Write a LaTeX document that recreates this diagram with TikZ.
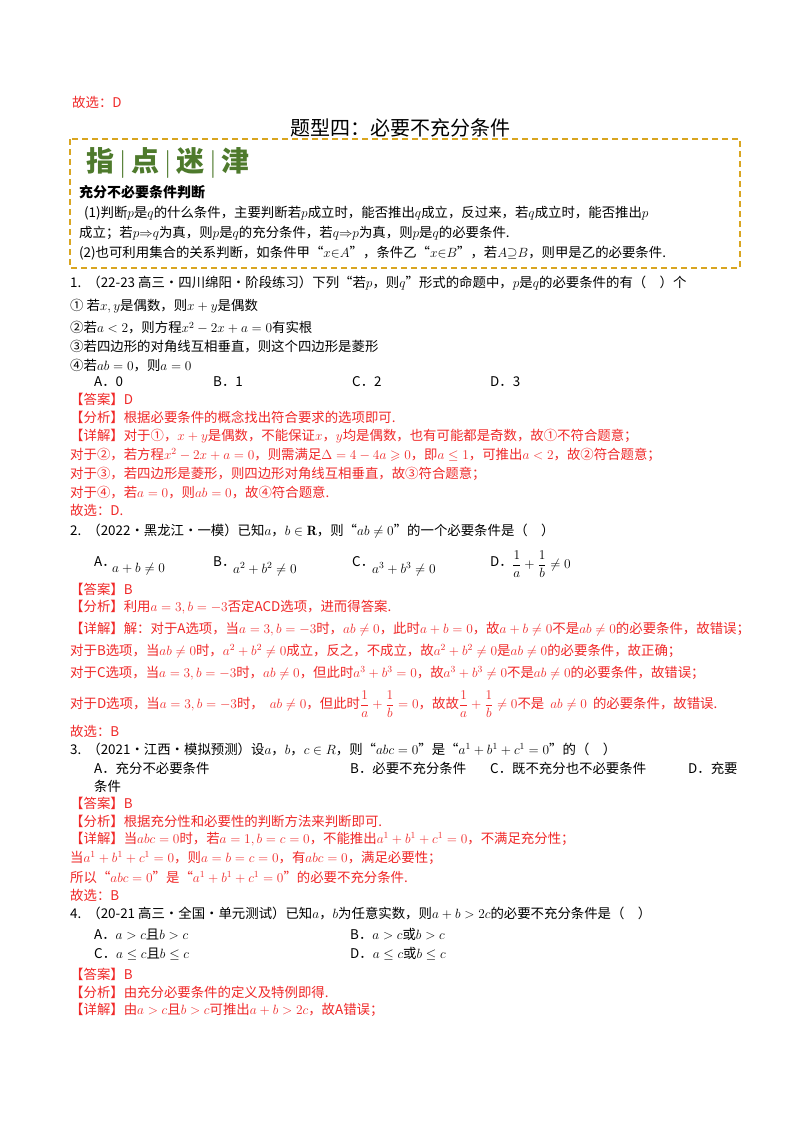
\RequirePackage{fix-cm}
\documentclass[tikz,border=0pt]{standalone}
\usepackage{amsmath,amssymb}
\usepackage{fontspec}
\newfontfamily\cjk{Noto Sans CJK SC}
\definecolor{ansred}{HTML}{F02828}
\definecolor{boxorange}{HTML}{D9A520}
\definecolor{zgreen}{HTML}{4E7A2C}
\tikzset{
 txt/.style={anchor=west, inner sep=0pt, font=\cjk\fontsize{13.4}{16}\selectfont},
 rtxt/.style={txt, text=ansred},
}
\begin{document}
\begin{tikzpicture}[x=1pt,y=-1pt]
\useasboundingbox[fill=white] (0,0) rectangle (800,1132);
\node[rtxt] (g0) at (72,102) {故选：D};
\node[anchor=center,inner sep=0pt,font=\cjk\fontsize{20}{24}\selectfont] (title) at (400,128) {题型四：必要不充分条件};
\draw[boxorange, line width=1.6pt, dash pattern=on 6pt off 4pt] (70,139) rectangle (740,268);
\node[txt,font=\cjk\bfseries\fontsize{28}{32}\selectfont,text=zgreen] (zd) at (86,163) {指\,{\normalfont|}\,点\,{\normalfont|}\,迷\,{\normalfont|}\,津};
\node[txt,font=\cjk\bfseries\fontsize{14}{16}\selectfont] (h) at (79,192) {充分不必要条件判断};
\node[txt] (l1) at (84,213) {(1)判断$p$是$q$的什么条件，主要判断若$p$成立时，能否推出$q$成立，反过来，若$q$成立时，能否推出$p$};
\node[txt] (l2) at (79,233) {成立；若$p{\Rightarrow}q$为真，则$p$是$q$的充分条件，若$q{\Rightarrow}p$为真，则$p$是$q$的必要条件.};
\node[txt] (l3) at (79,253) {(2)也可利用集合的关系判断，如条件甲“$x{\in}A$”，条件乙“$x{\in}B$”，若$A{\supseteq}B$，则甲是乙的必要条件.};

\node[txt] (q1) at (70,283) {1.\ \ （22-23 高三·四川绵阳·阶段练习）下列“若$p$，则$q$”形式的命题中，$p$是$q$的必要条件的有（\quad）个};
\node[txt] (q1a) at (70,306) {① 若$x,y$是偶数，则$x+y$是偶数};
\node[txt] (q1b) at (70,328) {②若$a<2$，则方程$x^2-2x+a=0$有实根};
\node[txt] (q1c) at (70,347) {③若四边形的对角线互相垂直，则这个四边形是菱形};
\node[txt] (q1d) at (70,366) {④若$ab=0$，则$a=0$};
\node[txt] (o1a) at (94,382) {A．0};
\node[txt] (o1b) at (213,382) {B．1};
\node[txt] (o1c) at (352,382) {C．2};
\node[txt] (o1d) at (490,382) {D．3};
\node[rtxt] (a1) at (70,399) {【答案】D};
\node[rtxt] (f1) at (70,417) {【分析】根据必要条件的概念找出符合要求的选项即可.};
\node[rtxt] (d1) at (70,436) {【详解】对于①，$x+y$是偶数，不能保证$x$，$y$均是偶数，也有可能都是奇数，故①不符合题意；};
\node[rtxt] (d1b) at (70,455) {对于②，若方程$x^2-2x+a=0$，则需满足$\Delta=4-4a\geqslant0$，即$a\le1$，可推出$a<2$，故②符合题意；};
\node[rtxt] (d1c) at (70,474) {对于③，若四边形是菱形，则四边形对角线互相垂直，故③符合题意；};
\node[rtxt] (d1d) at (70,493) {对于④，若$a=0$，则$ab=0$，故④符合题意.};
\node[rtxt] (g1) at (70,510) {故选：D.};

\node[txt] (q2) at (70,531) {2.\ \ （2022·黑龙江·一模）已知$a$，$b\in\mathbf{R}$，则“$ab\neq0$”的一个必要条件是（\quad）};
\node[txt] (o2a) at (94,562) {A．};
\node[txt] (o2am) at (112,569) {$a+b\neq0$};
\node[txt] (o2b) at (213,562) {B．};
\node[txt] (o2bm) at (233,569) {$a^2+b^2\neq0$};
\node[txt] (o2c) at (352,562) {C．};
\node[txt] (o2cm) at (372,569) {$a^3+b^3\neq0$};
\node[txt] (o2d) at (490,562) {D．};
\node[txt] (o2dm) at (512,564) {$\dfrac1a+\dfrac1b\neq0$};
\begin{scope}[every node/.append style={font=\cjk\fontsize{11.8}{14}\selectfont}]
\node[rtxt] (a2) at (70,589) {【答案】B};
\node[rtxt] (f2) at (70,607) {【分析】利用$a=3,b=-3$否定ACD选项，进而得答案.};
\node[rtxt] (d2) at (70,629) {【详解】解：对于A选项，当$a=3,b=-3$时，$ab\neq0$，此时$a+b=0$，故$a+b\neq0$不是$ab\neq0$的必要条件，故错误；};
\node[rtxt] (d2b) at (70,651) {对于B选项，当$ab\neq0$时，$a^2+b^2\neq0$成立，反之，不成立，故$a^2+b^2\neq0$是$ab\neq0$的必要条件，故正确；};
\node[rtxt] (d2c) at (70,673) {对于C选项，当$a=3,b=-3$时，$ab\neq0$，但此时$a^3+b^3=0$，故$a^3+b^3\neq0$不是$ab\neq0$的必要条件，故错误；};
\node[rtxt] (d2d) at (70,704) {对于D选项，当$a=3,b=-3$时，\ \ $ab\neq0$，但此时$\dfrac1a+\dfrac1b=0$，故故$\dfrac1a+\dfrac1b\neq0$不是\ \ $ab\neq0$\ \ 的必要条件，故错误.};
\node[rtxt] (g2) at (70,731) {故选：B};
\end{scope}

\node[txt] (q3) at (70,749) {3.\ \ （2021·江西·模拟预测）设$a$，$b$，$c\in R$，则“$abc=0$”是“$a^1+b^1+c^1=0$”的（\quad）};
\node[txt] (o3a) at (94,768) {A．充分不必要条件};
\node[txt] (o3b) at (350,768) {B．必要不充分条件};
\node[txt] (o3c) at (490,768) {C．既不充分也不必要条件};
\node[txt] (o3d) at (688,768) {D．充要};
\node[txt] (o3e) at (94,786) {条件};
\node[rtxt] (a3) at (70,803) {【答案】B};
\node[rtxt] (f3) at (70,821) {【分析】根据充分性和必要性的判断方法来判断即可.};
\node[rtxt] (d3) at (70,839) {【详解】当$abc=0$时，若$a=1,b=c=0$，不能推出$a^1+b^1+c^1=0$，不满足充分性；};
\node[rtxt] (d3b) at (70,858) {当$a^1+b^1+c^1=0$，则$a=b=c=0$，有$abc=0$，满足必要性；};
\node[rtxt] (d3c) at (70,877) {所以“$abc=0$”是“$a^1+b^1+c^1=0$”的必要不充分条件.};
\node[rtxt] (g3) at (70,895) {故选：B};
\node[txt] (q4) at (70,913) {4.\ \ （20-21 高三·全国·单元测试）已知$a$，$b$为任意实数，则$a+b>2c$的必要不充分条件是（\quad）};
\node[txt] (o4a) at (94,934) {A．$a>c$且$b>c$};
\node[txt] (o4b) at (350,934) {B．$a>c$或$b>c$};
\node[txt] (o4c) at (94,954) {C．$a\le c$且$b\le c$};
\node[txt] (o4d) at (350,954) {D．$a\le c$或$b\le c$};
\node[rtxt] (a4) at (70,974) {【答案】B};
\node[rtxt] (f4) at (70,992) {【分析】由充分必要条件的定义及特例即得.};
\node[rtxt] (d4) at (70,1010) {【详解】由$a>c$且$b>c$可推出$a+b>2c$，故A错误；};
\end{tikzpicture}
\end{document}
